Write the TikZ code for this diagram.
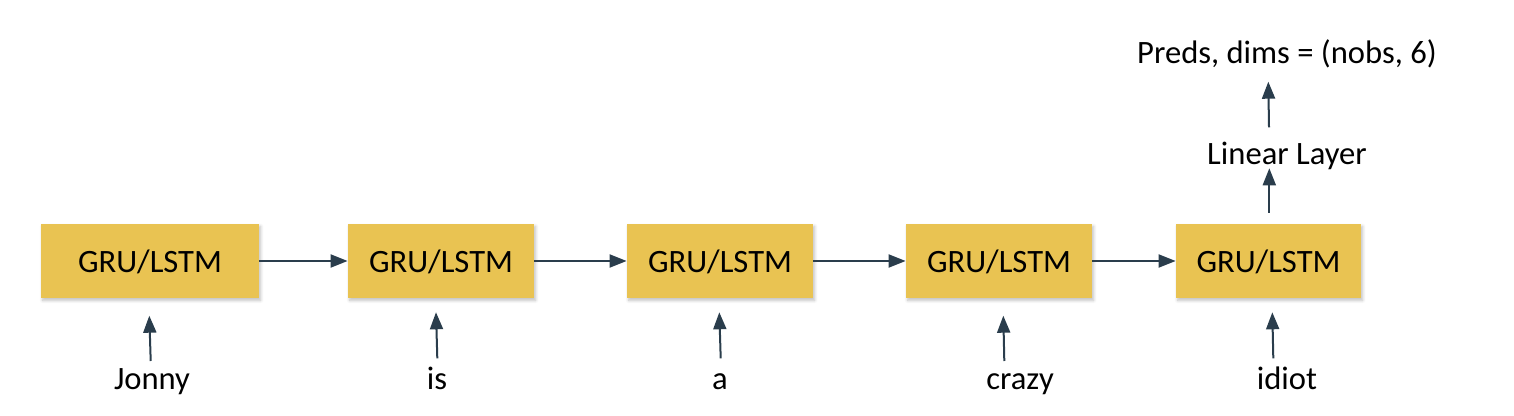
\documentclass[tikz,border=0pt]{standalone}
\usepackage{fontspec}
\setmainfont{Carlito}
\usetikzlibrary{arrows.meta,shadows.blur}
\definecolor{boxfill}{HTML}{E9C352}
\definecolor{arrcol}{HTML}{2A3D4C}
\begin{document}
\begin{tikzpicture}[x=0.5pt,y=-0.5pt,
  cell/.style={fill=boxfill, draw=none, minimum height=37pt, inner sep=0pt,
    text height=12pt, text depth=0pt,
    font=\fontsize{16.3}{19}\selectfont,
    blur shadow={shadow xshift=0.8pt, shadow yshift=-1.2pt, shadow blur steps=6, shadow opacity=25, shadow blur radius=1.5pt}},
  word/.style={anchor=base, inner sep=0pt, font=\fontsize{16.3}{19}\selectfont},
  arr/.style={draw=arrcol, line width=1pt, -{Triangle[length=8.5pt,width=6.5pt]}}]
\useasboundingbox (0,0) rectangle (1514,416);
% boxes
\node[cell, minimum width=109pt] (b1) at (150,261) {GRU/LSTM};
\node[cell, minimum width=93pt] (b2) at (441,261) {GRU/LSTM};
\node[cell, minimum width=93pt] (b3) at (720,261) {GRU/LSTM};
\node[cell, minimum width=93pt] (b4) at (999,261) {GRU/LSTM};
\node[cell, minimum width=92.5pt] (b5) at (1268.5,261) {GRU/LSTM};
% words
\node[word] (w1) at (152,389) {Jonny};
\node[word] (w2) at (437,389) {is};
\node[word] (w3) at (720,389) {a};
\node[word] (w4) at (1020,389) {crazy};
\node[word] (w5) at (1287,389) {idiot};
\node[word] (lin) at (1287,165) {Linear Layer};
\node[word] (pred) at (1287,64) {Preds, dims = (nobs, 6)};
% arrow ends
\coordinate (t1) at (150.7,361); \coordinate (h1) at (149.3,315.7);
\coordinate (t2) at (437.3,358.3); \coordinate (h2) at (436,312.3);
\coordinate (t3) at (720.7,358.3); \coordinate (h3) at (719.3,312.3);
\coordinate (t4) at (1004.3,361); \coordinate (h4) at (1003.3,315.7);
\coordinate (t5) at (1273.3,358.3); \coordinate (h5) at (1272.3,312.3);
\coordinate (t6) at (1269.3,213); \coordinate (h6) at (1269.3,168.3);
\coordinate (t7) at (1269,127.3); \coordinate (h7) at (1268.3,81.7);
% connectors
\draw[arr] (b1.east) -- (b2.west);
\draw[arr] (b2.east) -- (b3.west);
\draw[arr] (b3.east) -- (b4.west);
\draw[arr] (b4.east) -- (b5.west);
\draw[arr] (t1) -- (h1);
\draw[arr] (t2) -- (h2);
\draw[arr] (t3) -- (h3);
\draw[arr] (t4) -- (h4);
\draw[arr] (t5) -- (h5);
\draw[arr] (t6) -- (h6);
\draw[arr] (t7) -- (h7);
\end{tikzpicture}
\end{document}
